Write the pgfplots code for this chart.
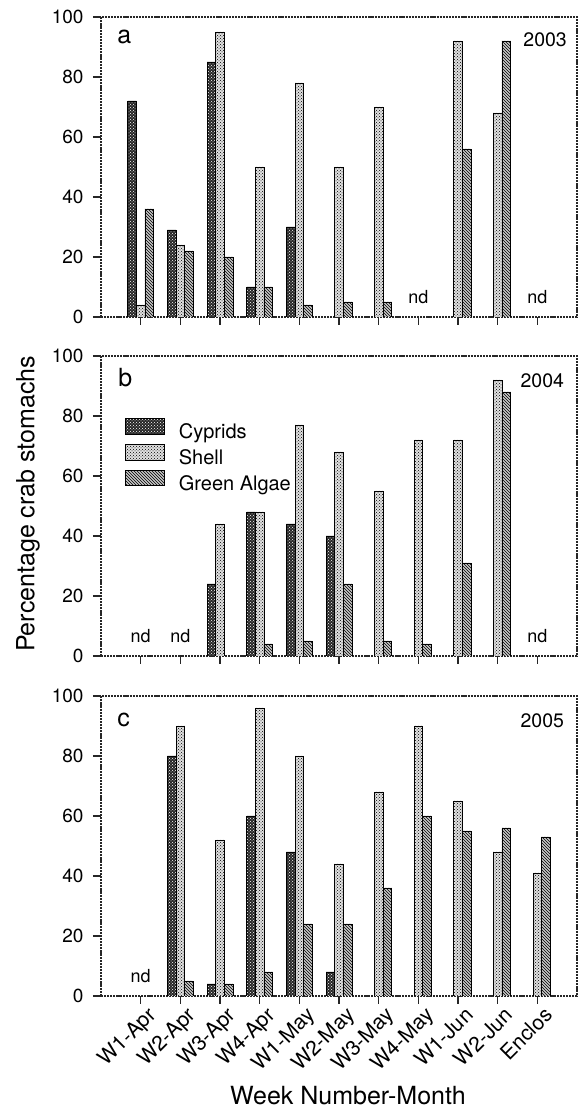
\documentclass[border=0pt]{standalone}
\usepackage{fontspec}
\setmainfont{TeX Gyre Heros}
\usepackage{pgfplots}
\pgfplotsset{compat=1.18}
\usetikzlibrary{patterns}

\pgfplotsset{
  panel/.style={
    scale only axis, width=476pt, height=300pt,
    xmin=-1, xmax=11, ymin=0, ymax=100,
    ybar=0pt, bar width=8.6pt,
    xtick={0,...,10}, ytick={0,20,...,100},
    tick pos=left, tick align=outside,
    major tick length=8pt,
    axis line style={black!85, line width=1.1pt, dash pattern=on 2.2pt off 0.9pt},
    every tick/.style={black!85, line width=1.1pt},
    ticklabel style={font=\fontsize{19}{19}\selectfont},
    yticklabel style={xshift=-6pt},
    /pgf/number format/assume math mode=true,
    anchor=south west,
    legend image code/.code={\draw[#1] (0pt,-0.5pt) rectangle (39pt,15pt);},
  },
  cyp/.style={draw=black, line width=0.7pt, fill=black!85, postaction={pattern=crosshatch dots, pattern color=white}},
  shl/.style={draw=black, line width=0.7pt, fill=black!12, postaction={pattern=crosshatch dots, pattern color=black}},
  alg/.style={draw=black, line width=0.7pt, fill=black!22, postaction={pattern=north west lines, pattern color=black}},
}
\tikzset{
  tagl/.style={font=\fontsize{25}{25}\selectfont, inner sep=0pt, anchor=north west},
  tagy/.style={font=\fontsize{19.5}{19.5}\selectfont, inner sep=0pt, anchor=north east},
  nd/.style={font=\fontsize{18}{18}\selectfont, inner sep=0pt},
}

\begin{document}
\begin{tikzpicture}[x=1pt,y=1pt]
\path[use as bounding box] (0,0) rectangle (578,1108);

% ---------- 2003 ----------
\begin{axis}[panel, at={(101pt,791pt)}, xticklabels={}]
\addplot[cyp] coordinates {(0,72)(1,29)(2,85)(3,10)(4,30)};
\addplot[shl] coordinates {(0,4)(1,24)(2,95)(3,50)(4,78)(5,50)(6,70)(8,92)(9,68)};
\addplot[alg] coordinates {(0,36)(1,22)(2,20)(3,10)(4,4)(5,5)(6,5)(8,56)(9,92)};
\node[tagl] at (rel axis cs:0.034,0.957) {a};
\node[tagy] at (rel axis cs:0.979,0.95) {2003};
\node[nd] at (axis cs:7,6.7) {nd};
\node[nd] at (axis cs:10,6.7) {nd};
\end{axis}

% ---------- 2004 ----------
\begin{axis}[panel, at={(101pt,452pt)}, xticklabels={},
  legend style={at={(0.044,0.8)}, anchor=north west, draw=none, fill=none,
    font=\fontsize{20}{20}\selectfont, row sep=0.5pt,
    nodes={inner sep=0pt, text height=15pt, text depth=5pt},
    /tikz/every odd column/.append style={column sep=14pt}},
  legend cell align=left]
\addplot[cyp] coordinates {(2,24)(3,48)(4,44)(5,40)};
\addplot[shl] coordinates {(2,44)(3,48)(4,77)(5,68)(6,55)(7,72)(8,72)(9,92)};
\addplot[alg] coordinates {(3,4)(4,5)(5,24)(6,5)(7,4)(8,31)(9,88)};
\legend{Cyprids, Shell, Green Algae}
\node[tagl] at (rel axis cs:0.036,0.96) {b};
\node[tagy] at (rel axis cs:0.973,0.943) {2004};
\node[nd] at (axis cs:0,6.7) {nd};
\node[nd] at (axis cs:1,6.7) {nd};
\node[nd] at (axis cs:10,6.7) {nd};
\end{axis}

% ---------- 2005 ----------
\begin{axis}[panel, at={(101pt,112pt)},
  xticklabels={W1-Apr,W2-Apr,W3-Apr,W4-Apr,W1-May,W2-May,W3-May,W4-May,W1-Jun,W2-Jun,Enclos},
  xticklabel style={rotate=45, anchor=north east, inner sep=1pt, xshift=4pt, yshift=-4pt,
    font=\fontsize{21}{21}\selectfont}]
\addplot[cyp] coordinates {(1,80)(2,4)(3,60)(4,48)(5,8)};
\addplot[shl] coordinates {(1,90)(2,52)(3,96)(4,80)(5,44)(6,68)(7,90)(8,65)(9,48)(10,41)};
\addplot[alg] coordinates {(1,5)(2,4)(3,8)(4,24)(5,24)(6,36)(7,60)(8,55)(9,56)(10,53)};
\node[tagl] at (rel axis cs:0.034,0.945) {c};
\node[tagy] at (rel axis cs:0.973,0.943) {2005};
\node[nd] at (axis cs:0,6.7) {nd};
\end{axis}

\node[rotate=90, anchor=south, inner sep=0pt, font=\fontsize{25}{25}\selectfont] at (40,604) {Percentage crab stomachs};
\node[anchor=base, inner sep=0pt, font=\fontsize{25}{25}\selectfont] at (348,3.5) {Week Number-Month};
\end{tikzpicture}
\end{document}
